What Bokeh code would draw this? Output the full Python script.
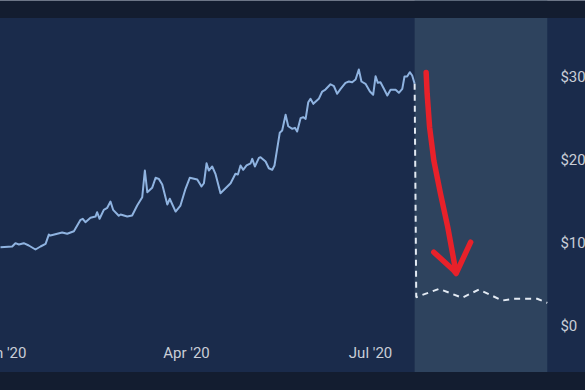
import pandas as pd
from bokeh.plotting import figure
from bokeh.models import (Range1d, DatetimeAxis, LinearAxis, FixedTicker,
                          DatetimeTickFormatter, PrintfTickFormatter, BoxAnnotation)
from bokeh.embed import file_html
from bokeh.resources import INLINE

# ---------------- data ----------------
BASE = "2020-01-01"

# price history: days after Jan 1 2020, closing value ($)
price_days = [-1.0, 4.8, 6.4, 8.1, 10.5, 13.0, 16.3, 18.8, 21.3, 22.9, 23.7, 29.5,
              32.0, 35.3, 38.6, 39.7, 41.0, 43.5, 46.0, 46.8, 48.0, 50.1, 51.8,
              53.4, 54.7, 57.5, 58.4, 61.7, 64.1, 66.6, 69.1, 70.4, 71.6, 74.0,
              75.7, 77.3, 79.0, 81.5, 82.7, 85.6, 88.0, 90.5, 92.6, 96.3, 98.4,
              99.6, 100.9, 102.0, 103.7, 105.3, 107.8, 110.3, 112.8, 115.2, 116.4,
              117.7, 119.0, 120.7, 122.7, 123.5, 124.8, 126.8, 127.6, 130.1, 131.7,
              133.4, 134.5, 137.1, 138.3, 140.0, 141.3, 143.3, 144.6, 145.7, 147.4,
              148.7, 149.9, 151.2, 152.3, 153.7, 156.4, 158.1, 159.7, 162.2, 163.9,
              165.5, 167.2, 169.6, 171.3, 172.9, 174.6, 176.2, 177.5, 179.5, 181.7,
              183.3, 184.5, 185.6, 186.9, 188.6, 190.3, 191.9, 194.4, 196.0, 197.7,
              198.8, 200.1, 201.4, 202.6, 203.8]
price_values = [94.3, 95.2, 99.2, 97.6, 99.2, 96.4, 91.6, 95.2, 98.4, 109.6, 108.4, 112.0,
                110.5, 113.6, 127.3, 128.6, 124.5, 129.8, 131.3, 136.5, 128.6, 139.4, 141.8,
                149.4, 139.4, 132.2, 133.7, 131.3, 132.5, 144.6, 154.6, 186.7, 160.6, 165.9,
                178.0, 176.7, 169.9, 145.8, 152.7, 137.3, 144.6, 164.7, 178.0, 175.9, 167.5,
                171.4, 195.5, 186.7, 191.6, 182.8, 159.4, 165.4, 171.4, 182.8, 181.9,
                192.8, 187.6, 192.8, 195.5, 200.8, 191.6, 202.0, 202.8, 197.6, 189.5,
                187.6, 192.8, 232.2, 234.9, 253.9, 240.1, 237.0, 238.2, 233.7, 249.8,
                251.0, 249.0, 269.0, 273.1, 267.1, 273.1, 281.9, 284.3, 290.7, 288.3,
                279.2, 285.2, 292.4, 294.0, 293.1, 296.4, 308.4, 294.0, 291.2, 281.9,
                278.0, 300.4, 292.4, 293.1, 285.2, 277.1, 284.0, 284.0, 280.4, 285.2,
                300.0, 300.0, 305.2, 301.2, 291.2]

# projected (dashed) series
proj_days = [203.8, 204.6, 215.9, 227.3, 235.6, 247.1, 252.8, 264.4, 269.4]
proj_values = [291.2, 34.1, 44.2, 33.4, 43.4, 30.1, 32.2, 32.2, 27.3]

# red hand-drawn arrow (data space)
arrow_shaft_days = [209.5, 210.0, 211.2, 213.3, 216.6, 220.2, 223.2, 224.3]
arrow_shaft_values = [304.8, 279.2, 238.9, 198.8, 158.7, 118.4, 78.3, 63.9]
arrow_head_days = [213.3, 223.2, 224.3, 231.5]
arrow_head_values = [88.3, 66.3, 62.7, 100.4]

x_tick_dates = ["2020-01-01", "2020-04-01", "2020-07-01"]
y_ticks = [0, 100, 200, 300]

# ---------------- styling ----------------
NAVY = "#1a2b4b"
DARK = "#131d30"
SHADE = "#2e435e"
LINE = "#8fb3e0"
DASH = "#e3eaf3"
RED = "#e8212a"
TEXT = "#c9ced7"
FONT = "Roboto"
SHIFT = 24  # canvas extends this many px beyond the window's left edge


def to_dt(days):
    return pd.Timestamp(BASE) + pd.to_timedelta(pd.Series(days, dtype=float), unit="D")


def ms_day(d):
    return (pd.Timestamp(BASE) + pd.Timedelta(days=d)).timestamp() * 1000.0


def ms_date(s):
    return pd.Timestamp(s).timestamp() * 1000.0


p = figure(width=585 + SHIFT, height=390, output_backend="svg", toolbar_location=None,
           x_axis_location=None, y_axis_location=None,
           x_range=Range1d(ms_day(-12.86), ms_day(288.3)),
           y_range=Range1d(-78.3, 391.6),
           background_fill_color=NAVY, border_fill_color=NAVY,
           min_border=0, min_border_left=0, min_border_right=0,
           min_border_top=0, min_border_bottom=0)
p.styles = {"margin-left": f"-{SHIFT}px"}
p.outline_line_color = None
p.grid.visible = False

# shaded projection window
p.add_layout(BoxAnnotation(left=ms_day(proj_days[0]), right=ms_day(proj_days[-1]),
                           fill_color=SHADE, fill_alpha=1.0, line_color=None,
                           level="underlay"))

p.line(to_dt(price_days), price_values, line_color=LINE, line_width=2,
       line_join="round")
p.line(to_dt(proj_days), proj_values, line_color=DASH, line_width=2,
       line_dash="6 5")

p.line(to_dt(arrow_shaft_days), arrow_shaft_values, line_color=RED, line_width=5.5,
       line_cap="round", line_join="round")
p.line(to_dt(arrow_head_days), arrow_head_values, line_color=RED, line_width=5.5,
       line_cap="round", line_join="round")

fmt = "%b '%y"
xaxis = DatetimeAxis(
    ticker=FixedTicker(ticks=[ms_date(d) for d in x_tick_dates]),
    formatter=DatetimeTickFormatter(days=fmt, months=fmt, years=fmt, hours=fmt,
                                    hourmin=fmt, minutes=fmt, minsec=fmt,
                                    seconds=fmt, milliseconds=fmt,
                                    microseconds=fmt),
    fixed_location=-22,
    axis_line_color=None, major_tick_line_color=None, minor_tick_line_color=None,
    major_tick_in=0, major_tick_out=0, minor_tick_in=0, minor_tick_out=0,
    major_label_standoff=0,
    major_label_text_color=TEXT, major_label_text_font=FONT,
    major_label_text_font_size="15px")
p.add_layout(xaxis, "below")

yaxis = LinearAxis(
    ticker=FixedTicker(ticks=y_ticks),
    formatter=PrintfTickFormatter(format="$%d"),
    fixed_location=ms_day(275.9),
    axis_line_color=None, major_tick_line_color=None, minor_tick_line_color=None,
    major_tick_in=0, major_tick_out=0, minor_tick_in=0, minor_tick_out=0,
    major_label_standoff=0,
    major_label_text_color=TEXT, major_label_text_font=FONT,
    major_label_text_font_size="15px")
p.add_layout(yaxis, "right")

# dark page bands above and below the panel
p.add_layout(BoxAnnotation(bottom=370.5, fill_color=DARK, fill_alpha=1.0,
                           line_color=None, level="overlay"))
p.add_layout(BoxAnnotation(top=-56.0, fill_color=DARK, fill_alpha=1.0,
                           line_color=None, level="overlay"))

open("out.html", "w").write(file_html(p, INLINE))
